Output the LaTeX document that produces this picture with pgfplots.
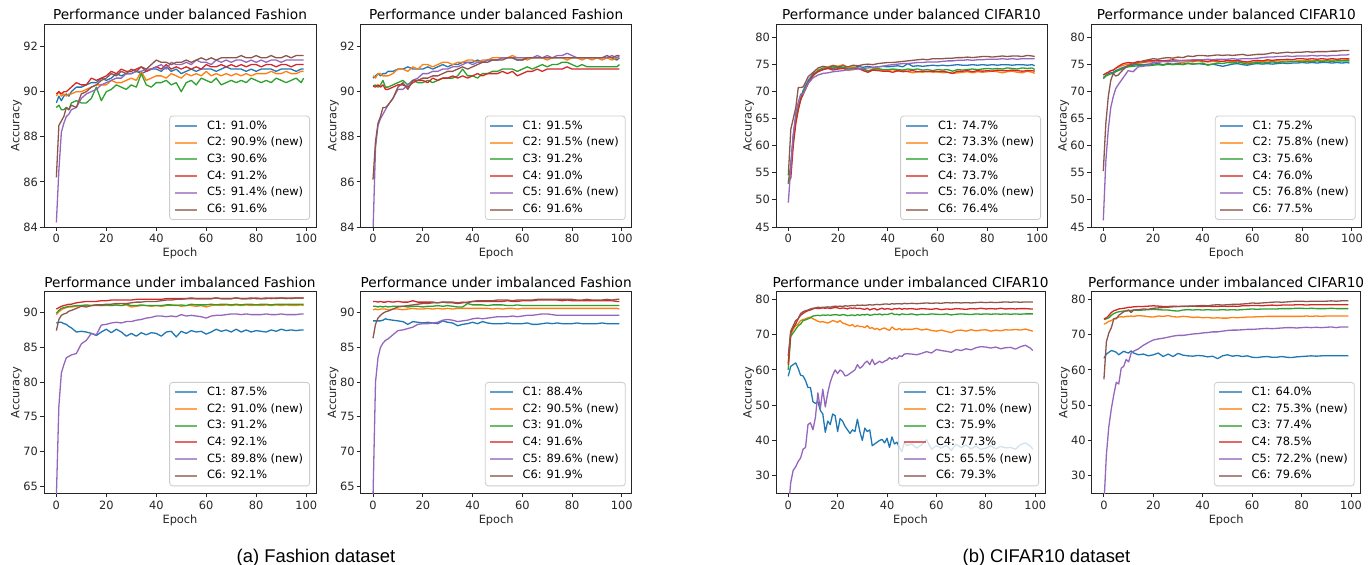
\documentclass[border=0pt]{standalone}
\usepackage{fontspec}
\setmainfont{DejaVu Sans}
\newfontfamily\capfont{Liberation Sans}
\usepackage{pgfplots}
\usepackage{pgfplotstable}
\pgfplotsset{compat=1.18}

\definecolor{c0}{HTML}{1F77B4}
\definecolor{c1}{HTML}{FF7F0E}
\definecolor{c2}{HTML}{2CA02C}
\definecolor{c3}{HTML}{D62728}
\definecolor{c4}{HTML}{9467BD}
\definecolor{c5}{HTML}{8C564B}

% columns: epoch, C1..C6
\pgfplotstableread{
x a b c d e f
0 89.5 89.8 89.3 89.9 84.2 86.2
1 89.8 90.0 89.4 90.0 86.5 88.5
2 89.6 89.8 89.2 89.9 88.2 88.7
3 89.8 89.9 89.2 90.0 88.6 88.9
4 89.9 89.8 89.3 90.0 88.9 89.3
5 89.8 89.9 89.2 90.1 89.0 89.2
6 90.0 89.9 89.5 90.2 89.2 89.4
8 90.2 90.0 89.6 90.4 89.3 89.3
10 90.2 90.0 89.5 90.3 89.7 89.9
12 90.3 90.1 89.5 90.3 89.9 90.0
14 90.4 90.2 89.7 90.6 90.0 90.2
16 90.4 90.3 90.2 90.5 90.1 90.3
18 90.6 90.3 89.6 90.6 90.3 90.5
20 90.5 90.3 90.0 90.7 90.4 90.6
22 90.6 90.5 90.1 90.9 90.5 90.8
24 90.8 90.4 90.3 90.8 90.6 90.7
26 90.7 90.4 90.2 91.0 90.6 90.9
28 90.8 90.5 90.1 90.9 90.8 90.8
30 90.8 90.6 90.3 90.9 90.8 91.0
32 90.9 90.5 90.2 91.0 90.9 90.9
34 90.8 90.9 90.8 91.1 90.9 91.1
36 90.9 90.5 90.3 90.9 91.0 91.0
38 91.0 90.6 90.2 91.0 91.0 91.2
40 91.0 90.7 90.4 91.1 91.1 91.4
42 90.9 90.7 90.4 91.0 91.2 91.3
44 91.1 90.6 90.5 91.2 91.0 91.3
46 90.9 90.8 90.3 91.0 91.3 91.2
48 91.0 90.7 90.4 91.1 91.2 91.3
50 90.8 90.6 90.0 91.0 91.2 91.3
52 90.9 90.8 90.4 91.1 91.3 91.4
54 91.0 90.7 90.5 91.0 91.2 91.3
56 90.9 90.8 90.3 91.1 91.4 91.4
58 91.0 90.7 90.6 91.0 91.3 91.5
60 91.0 90.9 90.5 91.2 91.3 91.4
62 91.0 90.7 90.4 91.1 91.2 91.5
64 90.9 90.8 90.6 91.1 91.4 91.4
66 91.0 90.7 90.3 91.2 91.3 91.5
68 91.1 90.8 90.4 91.1 91.4 91.5
70 91.0 90.7 90.5 91.2 91.3 91.5
72 91.0 90.8 90.4 91.1 91.4 91.5
74 91.0 90.7 90.5 91.2 91.4 91.6
76 90.9 90.8 90.4 91.1 91.3 91.5
78 91.0 90.7 90.6 91.2 91.4 91.5
80 90.9 90.8 90.5 91.2 91.3 91.6
82 91.0 90.8 90.4 91.1 91.4 91.5
84 91.0 90.8 90.5 91.2 91.3 91.5
86 91.0 90.9 90.4 91.2 91.4 91.6
88 90.9 90.8 90.6 91.1 91.4 91.5
90 91.0 90.8 90.5 91.2 91.3 91.5
92 91.0 90.9 90.4 91.2 91.4 91.6
94 91.0 90.8 90.5 91.1 91.4 91.5
96 90.9 90.8 90.6 91.2 91.4 91.6
98 91.0 90.9 90.4 91.2 91.4 91.6
99 91.0 90.9 90.6 91.2 91.4 91.6
}\tA

\pgfplotstableread{
x a b c d e f
0 90.6 90.7 90.25 90.25 83.8 86.1
1 90.7 90.6 90.3 90.2 87.5 87.8
2 90.8 90.8 90.2 90.3 88.5 88.6
3 90.7 90.8 90.3 90.2 88.8 88.9
4 90.8 90.7 90.5 90.3 89.0 89.3
5 90.8 90.7 90.2 90.1 89.2 89.3
6 90.9 90.7 90.2 90.1 89.4 89.4
8 90.9 90.8 90.3 90.2 89.7 89.7
10 91.0 91.0 90.4 90.3 90.1 90.2
12 91.0 91.0 90.5 90.3 90.1 90.4
14 91.1 90.9 90.3 90.2 90.3 90.1
16 91.0 91.1 90.5 90.4 90.5 90.5
18 91.0 91.0 90.4 90.5 90.6 90.5
20 91.0 91.2 90.4 90.5 90.8 90.6
22 91.1 91.2 90.5 90.4 90.8 90.6
24 91.0 91.1 90.4 90.6 90.9 90.7
26 91.1 91.2 90.5 90.5 90.9 90.7
28 91.2 91.3 90.6 90.6 91.0 90.8
30 91.1 91.3 90.6 90.6 91.0 90.9
32 91.2 91.2 90.6 90.7 91.1 90.9
34 91.2 91.3 90.7 90.6 91.1 91.0
36 91.3 91.3 91.0 90.7 91.2 91.1
38 91.3 91.4 90.7 90.6 91.3 91.0
40 91.3 91.4 90.7 90.7 91.2 91.1
42 91.4 91.3 90.6 90.8 91.3 91.2
44 91.3 91.4 90.8 90.7 91.3 91.3
46 91.4 91.4 90.8 90.8 91.4 91.3
48 91.4 91.5 90.9 90.8 91.4 91.4
50 91.4 91.5 90.9 90.8 91.4 91.4
52 91.5 91.5 91.0 90.9 91.5 91.4
54 91.5 91.5 91.0 90.8 91.5 91.5
56 91.5 91.6 91.0 90.9 91.5 91.5
58 91.4 91.5 90.9 90.7 91.5 91.4
60 91.4 91.5 91.0 90.8 91.5 91.4
62 91.5 91.4 91.1 90.9 91.5 91.5
64 91.5 91.5 91.0 90.9 91.5 91.5
66 91.5 91.5 91.1 91.0 91.6 91.5
68 91.5 91.5 91.2 90.9 91.5 91.5
70 91.5 91.4 91.1 91.0 91.6 91.5
72 91.5 91.5 91.2 91.0 91.5 91.5
74 91.5 91.5 91.2 91.0 91.6 91.5
76 91.5 91.5 91.3 91.0 91.6 91.5
78 91.5 91.4 91.3 91.1 91.7 91.5
80 91.5 91.5 91.2 91.0 91.6 91.5
82 91.5 91.5 91.1 91.0 91.5 91.5
84 91.5 91.4 91.2 91.0 91.5 91.5
86 91.5 91.5 91.1 91.0 91.5 91.5
88 91.5 91.4 91.1 91.0 91.5 91.5
90 91.5 91.5 91.1 91.0 91.5 91.5
92 91.5 91.4 91.1 91.0 91.5 91.5
94 91.5 91.5 91.1 91.0 91.5 91.6
96 91.5 91.4 91.1 91.0 91.6 91.5
98 91.4 91.5 91.1 91.0 91.5 91.6
99 91.5 91.5 91.2 91.0 91.6 91.6
}\tB

\pgfplotstableread{
x a b c d e f
0 53.0 53.0 53.0 53.5 49.5 54.5
1 56.5 55.5 56.0 54.0 56.0 63.0
2 62.0 61.0 61.5 60.0 62.0 65.0
3 65.0 64.5 65.0 64.0 66.0 67.0
4 67.0 67.0 67.0 66.5 68.0 70.7
5 68.8 68.5 68.5 68.5 69.5 70.7
6 70.2 69.5 70.0 69.5 69.5 70.8
8 72.0 71.5 71.5 71.5 71.5 72.7
10 73.2 72.8 73.0 73.0 72.5 73.5
12 73.8 74.0 73.8 73.6 73.0 74.3
14 74.0 74.2 74.3 74.0 73.3 74.6
16 74.3 74.5 74.2 74.2 73.4 74.4
18 74.2 74.8 74.5 73.9 73.6 74.7
20 74.4 74.6 74.2 74.1 73.7 74.5
22 74.2 74.9 74.4 74.2 73.8 74.7
24 74.5 74.3 74.1 73.9 74.0 74.5
26 74.3 74.5 74.3 74.0 74.0 74.8
28 74.6 74.2 74.2 74.3 74.1 74.7
30 74.4 74.0 74.1 73.8 74.2 74.9
32 74.6 73.5 73.8 73.5 74.3 75.0
34 74.4 74.2 74.0 73.9 74.4 74.9
36 74.5 74.0 74.2 73.8 74.5 75.1
38 74.6 73.9 74.0 73.7 74.6 75.2
40 74.5 73.8 74.0 73.7 74.8 75.3
42 74.6 74.0 74.1 73.5 74.9 75.3
44 74.7 73.7 74.0 73.8 75.0 75.4
46 74.5 73.9 73.9 73.6 75.1 75.5
48 75.1 73.6 74.1 73.7 75.1 75.6
50 74.6 73.4 74.0 73.8 75.2 75.7
52 74.7 73.6 74.1 73.6 75.3 75.8
54 74.6 73.5 73.9 73.7 75.3 75.9
56 74.7 73.7 74.0 73.6 75.4 75.8
58 74.8 73.5 73.8 73.7 75.4 76.0
60 74.7 73.6 74.0 73.6 75.4 76.0
62 74.8 73.4 73.9 73.7 75.5 76.0
64 74.7 73.5 74.0 73.5 75.6 76.1
66 74.8 73.3 73.7 73.3 75.6 76.1
68 74.9 73.4 74.0 73.7 75.7 76.2
70 74.8 73.5 73.9 73.7 75.7 76.2
72 74.8 73.6 74.0 73.8 75.8 76.3
74 74.9 73.4 74.1 73.6 75.7 76.2
76 74.8 73.6 74.0 73.8 75.8 76.3
78 74.9 73.5 74.1 73.7 75.8 76.4
80 74.8 73.6 74.2 73.8 75.9 76.4
82 74.9 73.7 74.1 73.7 75.9 76.3
84 74.8 73.6 74.2 73.9 75.9 76.4
86 74.9 73.4 74.1 73.8 76.0 76.5
88 74.9 73.6 74.3 73.8 75.9 76.4
90 74.8 73.7 74.2 73.9 76.0 76.5
92 74.9 73.5 74.1 73.8 75.9 76.5
94 74.9 73.4 74.3 73.7 76.0 76.4
96 74.8 73.7 74.2 73.8 76.0 76.6
98 74.9 73.5 74.3 73.8 76.0 76.5
99 74.7 73.3 74.0 73.7 76.0 76.4
}\tC

\pgfplotstableread{
x a b c d e f
0 72.5 73.0 72.3 73.0 46.2 55.3
1 72.9 73.2 72.8 73.3 57.0 64.0
2 73.3 73.5 73.0 73.5 63.0 69.0
3 73.4 73.8 73.2 73.8 67.0 72.0
4 73.5 73.9 73.3 73.9 69.0 73.3
5 73.8 74.3 73.6 74.2 70.5 72.8
6 74.0 74.4 73.8 74.6 71.2 73.0
8 74.4 74.8 74.2 75.1 72.5 74.0
10 74.7 75.0 74.5 75.3 73.8 74.8
12 74.8 75.2 74.6 75.2 73.6 75.0
14 75.0 75.1 74.7 75.5 74.5 75.3
16 74.9 75.3 74.8 75.4 74.6 75.6
18 75.0 75.4 74.7 75.6 74.8 75.8
20 75.0 75.4 74.8 75.6 75.3 76.0
22 75.1 75.3 74.9 75.7 75.4 75.9
24 74.9 75.5 74.8 75.6 75.5 76.1
26 75.1 75.4 75.0 75.7 75.5 76.2
28 75.0 75.5 74.9 75.8 75.6 76.1
30 75.1 75.4 75.0 75.7 75.6 76.3
32 75.0 75.3 74.9 75.6 75.7 76.2
34 75.2 75.5 75.1 75.7 75.7 76.5
36 75.0 75.4 75.0 75.6 75.8 76.4
38 75.1 75.6 75.1 75.7 75.8 76.6
40 75.0 75.5 75.2 75.6 75.8 76.6
42 74.9 75.4 74.8 75.5 75.9 76.5
44 75.0 75.5 75.0 75.7 75.8 76.6
46 74.8 75.4 75.2 75.6 75.9 76.7
48 74.6 75.5 75.1 75.5 75.9 76.6
50 74.8 75.6 75.3 75.7 75.9 76.7
52 75.0 75.4 75.2 75.6 76.0 76.6
54 75.1 75.6 75.4 75.7 75.9 76.7
56 74.9 75.4 75.2 75.5 76.0 76.8
58 74.8 75.2 75.0 75.4 76.0 76.6
60 75.0 75.3 75.2 75.6 76.0 76.7
62 75.1 75.5 75.3 75.7 76.1 76.8
64 75.0 75.4 75.2 75.6 76.2 76.8
66 75.1 75.6 75.3 75.8 76.3 76.9
68 75.0 75.5 75.4 75.7 76.3 77.1
70 75.1 75.6 75.3 75.8 76.4 77.0
72 75.2 75.5 75.4 75.8 76.4 77.1
74 75.1 75.6 75.4 75.9 76.5 77.2
76 75.2 75.5 75.5 75.8 76.4 77.1
78 75.2 75.6 75.5 76.0 76.5 77.2
80 75.3 75.6 75.4 76.0 76.5 77.2
82 75.2 75.7 75.5 75.9 76.5 77.3
84 75.3 75.6 75.5 76.0 76.6 77.2
86 75.2 75.7 75.6 75.9 76.5 77.3
88 75.3 75.6 75.5 76.0 76.6 77.3
90 75.3 75.7 75.6 75.9 76.5 77.3
92 75.2 75.7 75.5 76.0 76.6 77.4
94 75.3 75.8 75.6 75.9 76.6 77.4
96 75.2 75.7 75.6 76.0 76.7 77.5
98 75.3 75.8 75.6 76.0 76.7 77.5
99 75.2 75.8 75.6 76.0 76.8 77.5
}\tD

\pgfplotstableread{
x a b c d e f
0 88.5 89.7 89.9 90.5 63.5 87.4
1 88.6 90.1 90.3 90.7 76.5 89.0
2 88.6 90.4 90.6 90.9 81.3 89.6
3 88.4 90.6 90.7 91.0 82.5 89.8
4 88.3 90.7 90.8 91.1 83.5 89.9
5 88.0 90.8 90.9 91.2 83.7 90.2
6 87.8 90.8 90.9 91.2 83.9 90.3
8 87.2 90.9 91.0 91.4 84.1 90.6
10 87.3 91.0 91.0 91.5 85.5 90.9
12 87.2 91.0 91.1 91.6 86.0 90.8
14 87.0 91.0 91.0 91.6 87.0 91.0
16 86.7 91.0 91.1 91.6 86.8 91.1
18 87.2 91.0 91.0 91.7 88.2 91.1
20 87.6 91.0 91.1 91.7 88.3 91.2
22 87.1 91.0 91.0 91.8 88.5 91.2
24 87.6 91.1 91.1 91.8 88.6 91.3
26 87.2 91.0 91.0 91.8 88.5 91.3
28 86.6 91.1 91.2 91.8 88.7 91.3
30 87.0 90.8 91.0 91.8 88.7 91.4
32 86.6 90.9 91.0 91.9 88.9 91.5
34 87.1 91.0 91.1 91.9 89.0 91.5
36 86.8 91.0 91.0 91.9 89.2 91.6
38 87.1 90.9 91.0 91.9 89.3 91.6
40 87.0 91.0 91.0 91.9 89.5 91.6
42 86.6 90.9 91.0 91.9 89.5 91.7
44 87.2 91.0 91.1 92.0 89.4 91.8
46 87.3 91.0 91.1 92.0 89.5 91.8
48 86.5 91.1 91.0 92.0 89.4 91.9
50 87.3 90.9 91.1 92.0 89.7 91.9
52 87.0 91.0 91.0 92.0 89.5 92.0
54 87.4 91.0 91.2 92.1 89.6 92.0
56 87.2 90.9 91.1 92.0 89.5 92.0
58 87.3 91.0 91.1 92.0 89.4 92.0
60 86.9 90.8 91.1 92.0 89.2 92.0
62 87.2 91.0 91.2 92.0 89.5 92.0
64 87.6 91.1 91.1 92.1 89.6 92.1
66 87.3 91.0 91.2 92.0 89.6 92.0
68 87.5 91.1 91.2 92.0 89.7 92.0
70 87.2 91.0 91.1 92.0 89.8 92.0
72 87.6 91.1 91.2 92.1 89.8 92.1
74 87.2 91.0 91.1 92.0 89.7 92.0
76 87.5 91.1 91.2 92.0 89.8 92.0
78 87.2 91.0 91.2 92.1 89.7 92.0
80 87.4 91.1 91.1 92.0 89.7 92.1
82 87.3 91.0 91.2 92.0 89.7 92.0
84 87.2 91.1 91.2 92.1 89.8 92.0
86 87.5 91.0 91.1 92.0 89.7 92.1
88 87.3 91.1 91.2 92.1 89.7 92.0
90 87.6 91.0 91.2 92.1 89.8 92.1
92 87.4 91.1 91.2 92.0 89.7 92.1
94 87.5 91.0 91.2 92.1 89.7 92.0
96 87.4 91.0 91.2 92.1 89.7 92.1
98 87.5 91.1 91.2 92.1 89.8 92.1
99 87.5 91.0 91.2 92.1 89.8 92.1
}\tE

\pgfplotstableread{
x a b c d e f
0 88.8 90.4 90.9 91.6 63.5 86.3
1 88.8 90.5 90.9 91.6 80.0 88.3
2 88.8 90.4 90.8 91.5 83.5 89.2
3 88.8 90.5 90.9 91.6 85.0 89.6
4 88.9 90.5 90.8 91.5 85.6 89.9
5 89.1 90.5 90.9 91.5 86.0 90.1
6 89.0 90.4 90.8 91.6 86.2 90.2
8 88.9 90.5 90.9 91.5 86.8 90.5
10 88.8 90.5 90.9 91.6 87.4 90.8
12 88.7 90.4 90.9 91.5 87.5 90.9
14 88.3 90.5 90.8 91.5 87.7 91.0
16 88.7 90.6 90.9 91.7 87.9 91.1
18 88.6 90.5 90.9 91.5 88.3 91.2
20 88.5 90.5 90.8 91.5 88.4 91.3
22 88.6 90.6 90.9 91.5 88.4 91.3
24 88.5 90.5 90.9 91.5 88.5 91.4
26 88.4 90.6 91.0 91.4 88.6 91.4
28 88.8 90.5 90.9 91.5 88.9 91.5
30 88.6 90.6 91.0 91.4 89.0 91.5
32 88.5 90.5 90.9 91.4 88.9 91.5
34 88.1 90.6 90.8 91.3 88.7 91.4
36 88.3 90.6 90.8 91.4 88.8 91.5
38 88.4 90.6 91.3 91.5 88.9 91.4
40 88.6 90.6 91.1 91.6 89.1 91.6
42 88.4 90.6 91.1 91.6 89.2 91.7
44 88.7 90.6 91.1 91.6 89.1 91.7
46 88.5 90.6 91.0 91.6 89.2 91.7
48 88.4 90.5 91.1 91.6 89.3 91.7
50 88.4 90.6 91.1 91.6 89.4 91.8
52 88.4 90.5 91.1 91.6 89.4 91.8
54 88.5 90.6 91.0 91.7 89.4 91.8
56 88.4 90.6 91.0 91.6 89.5 91.7
58 88.4 90.5 91.1 91.6 89.4 91.8
60 88.4 90.6 91.0 91.7 89.5 91.8
62 88.5 90.6 91.0 91.7 89.6 91.8
64 88.3 90.6 91.0 91.7 89.6 91.8
66 88.3 90.6 91.0 91.8 89.7 91.9
68 88.4 90.6 91.0 91.8 89.8 91.9
70 88.5 90.6 91.0 91.8 89.8 91.9
72 88.4 90.6 91.0 91.8 89.7 91.9
74 88.5 90.6 91.0 91.8 89.6 91.9
76 88.4 90.6 91.0 91.7 89.6 91.9
78 88.4 90.6 91.0 91.8 89.6 91.9
80 88.4 90.6 91.0 91.7 89.6 91.9
82 88.5 90.6 91.0 91.7 89.6 91.8
84 88.4 90.6 91.0 91.7 89.6 91.8
86 88.4 90.6 91.0 91.7 89.6 91.9
88 88.4 90.6 91.0 91.7 89.6 91.8
90 88.4 90.6 91.0 91.7 89.6 91.8
92 88.5 90.6 91.0 91.7 89.6 91.8
94 88.4 90.6 91.0 91.7 89.6 91.9
96 88.4 90.6 91.0 91.7 89.6 91.8
98 88.4 90.6 91.0 91.6 89.6 91.9
99 88.4 90.5 91.0 91.6 89.6 91.9
}\tF

\pgfplotstableread{
x a b c d e f
0 58.2 62.0 60.0 61.5 20.0 64.0
1 61.0 70.0 69.5 70.5 28.0 71.0
2 61.5 71.5 70.5 72.0 31.5 72.5
3 62.0 72.5 71.5 73.0 32.5 74.0
4 60.5 73.0 72.5 74.5 34.0 74.5
5 58.5 74.0 73.0 75.5 35.0 76.0
6 58.3 74.3 74.0 76.0 37.5 76.5
7 57.0 74.5 74.2 76.5 38.0 76.8
8 55.0 74.8 74.5 76.8 44.5 77.0
9 55.0 75.0 74.8 77.0 45.0 77.3
10 51.0 74.5 75.3 77.3 43.0 77.5
11 50.5 74.2 75.4 77.5 46.5 77.6
12 51.0 73.8 75.5 77.4 53.5 77.8
13 48.5 73.6 75.4 77.5 49.0 77.7
14 47.5 73.7 75.6 77.6 54.5 77.8
15 42.3 73.5 75.5 77.5 49.5 77.8
16 45.5 73.3 75.6 77.6 53.5 77.9
17 44.5 73.6 75.5 77.4 56.5 77.8
18 47.5 74.0 75.6 77.6 58.5 78.0
19 47.0 73.8 75.7 77.7 60.0 78.1
20 42.5 73.5 75.6 77.6 59.0 78.0
21 46.2 74.0 75.5 77.4 60.0 78.1
22 45.5 73.3 75.7 77.6 59.5 78.0
23 44.0 73.1 75.6 77.5 58.3 78.2
24 43.0 72.8 75.4 77.3 58.5 78.1
25 42.0 72.5 75.5 77.6 59.0 78.2
26 43.0 72.9 75.6 77.5 59.5 78.3
27 42.5 72.2 75.4 77.6 60.0 78.2
28 46.0 72.6 75.7 77.4 61.5 78.4
29 42.5 72.3 75.5 77.5 60.5 78.3
30 40.0 72.3 75.7 77.3 61.0 78.4
31 43.5 72.0 75.6 77.2 62.0 78.3
32 42.5 72.6 75.8 77.5 62.5 78.4
33 43.0 71.8 75.5 77.0 61.5 78.5
34 38.5 72.0 75.6 77.3 63.0 78.4
35 39.0 71.5 75.8 77.4 61.5 78.5
36 39.5 71.8 75.7 77.0 62.0 78.6
37 40.0 71.3 75.9 77.3 62.5 78.5
38 40.3 71.7 75.6 77.5 62.0 78.6
39 39.3 71.9 75.8 77.2 62.5 78.7
40 40.6 71.5 75.7 77.4 62.8 78.7
41 38.0 71.2 75.9 77.3 63.5 78.6
42 41.0 72.2 76.1 77.1 63.0 78.8
43 39.0 71.6 75.7 77.4 63.5 78.7
44 39.5 71.4 75.8 77.3 63.2 78.8
45 38.0 71.8 75.6 77.5 64.0 78.8
46 36.8 71.3 75.9 77.2 63.8 78.7
47 39.5 71.6 75.8 77.4 64.5 78.9
48 38.5 71.5 75.7 77.3 64.6 78.8
50 39.0 71.5 75.9 77.4 64.5 78.9
52 37.8 71.8 75.6 77.2 64.3 78.8
54 38.8 71.3 75.8 77.4 64.7 78.9
56 40.2 71.6 75.7 77.3 65.2 79.0
58 37.5 71.2 75.9 77.2 64.8 78.9
60 38.5 71.0 75.8 77.4 65.8 79.0
62 37.8 71.3 75.7 77.1 65.5 78.9
64 38.6 70.9 75.9 77.3 65.3 79.1
66 37.2 70.6 75.6 77.2 65.0 79.0
68 38.9 71.2 75.8 77.4 65.8 79.1
70 38.0 71.3 75.9 77.3 65.5 79.0
72 38.7 71.0 75.8 77.2 66.0 79.1
74 37.6 71.4 75.7 77.4 65.7 79.0
76 38.4 71.1 75.9 77.3 66.3 79.1
78 37.5 71.3 75.8 77.5 66.6 79.2
80 37.8 71.4 75.9 77.3 66.5 79.1
82 38.5 71.0 75.8 77.4 66.2 79.2
84 37.6 71.3 75.9 77.3 66.5 79.1
86 38.3 71.1 75.8 77.5 66.0 79.2
88 37.9 71.4 75.9 77.3 66.3 79.3
90 38.0 71.3 75.8 77.4 66.4 79.2
92 37.5 71.5 75.9 77.3 65.9 79.3
94 38.8 71.3 75.8 77.4 66.6 79.2
96 39.3 71.6 75.9 77.4 67.0 79.3
98 38.4 71.2 75.9 77.3 66.2 79.3
99 37.5 71.0 75.9 77.3 65.5 79.3
}\tG

\pgfplotstableread{
x a b c d e f
0 63.3 73.0 74.3 74.5 22.0 57.3
1 64.5 73.3 74.5 74.8 36.0 68.0
2 65.0 73.8 74.8 75.5 44.0 70.5
3 65.5 74.0 75.5 76.3 49.0 72.0
4 65.3 74.5 76.0 76.8 53.0 74.5
5 65.0 74.8 76.3 77.0 56.5 74.5
6 64.3 75.0 76.5 77.3 56.0 75.5
7 64.8 75.1 76.6 77.4 60.5 76.0
8 65.3 75.0 76.7 77.5 61.0 76.5
9 65.0 75.2 76.7 77.6 63.0 76.8
10 64.8 75.2 76.8 77.8 62.3 77.0
11 65.4 75.3 76.9 77.8 64.7 76.3
12 64.8 75.2 77.0 77.9 65.3 77.0
14 64.3 75.4 76.9 78.0 66.0 77.1
16 64.5 75.3 77.0 78.0 67.0 77.3
18 64.0 75.1 77.1 78.1 67.8 77.2
20 64.3 75.0 77.2 78.2 68.5 77.5
22 64.8 75.3 77.1 78.1 68.8 77.6
24 63.8 75.2 77.0 78.0 69.0 77.7
26 64.5 75.4 77.0 78.0 69.3 77.8
28 63.8 75.1 76.8 78.1 69.6 77.9
30 64.7 75.0 76.7 78.0 69.8 78.0
32 64.2 75.2 77.0 78.1 69.8 78.0
34 64.0 75.1 77.1 78.0 70.0 78.1
36 63.9 74.9 77.0 78.1 70.2 78.1
38 64.1 75.0 77.1 78.0 70.3 78.2
40 64.0 74.8 77.0 78.0 70.5 78.3
42 63.7 74.9 77.1 78.1 70.6 78.2
44 63.9 74.7 77.0 78.0 70.8 78.4
46 63.2 74.8 77.0 78.0 70.8 78.5
48 64.0 74.7 77.1 78.1 71.0 78.4
50 64.3 74.7 77.0 78.0 71.2 78.5
52 63.9 74.9 77.1 78.1 71.3 78.6
54 64.1 74.8 77.0 78.0 71.3 78.6
56 63.8 74.9 77.1 78.2 71.4 78.7
58 64.0 75.0 77.2 78.2 71.5 78.8
60 63.6 75.0 77.3 78.3 71.5 79.0
62 63.5 75.1 77.2 78.3 71.6 78.9
64 63.7 75.1 77.3 78.2 71.7 79.0
66 63.8 75.2 77.3 78.3 71.8 79.1
68 63.6 75.2 77.3 78.4 71.7 79.2
70 63.6 75.2 77.3 78.3 71.8 79.3
72 63.8 75.2 77.4 78.4 71.9 79.2
74 63.6 75.2 77.4 78.4 72.0 79.3
76 63.5 75.2 77.4 78.4 72.0 79.4
78 63.7 75.2 77.5 78.5 71.9 79.5
80 63.8 75.2 77.5 78.5 72.0 79.5
82 63.9 75.3 77.4 78.4 72.1 79.4
84 64.0 75.2 77.5 78.5 72.0 79.5
86 63.9 75.3 77.4 78.5 72.1 79.5
88 64.0 75.2 77.4 78.5 72.0 79.5
90 64.0 75.3 77.4 78.5 72.1 79.5
92 64.0 75.3 77.5 78.5 72.2 79.6
94 64.0 75.3 77.4 78.5 72.0 79.5
96 64.0 75.3 77.4 78.5 72.2 79.6
98 64.0 75.3 77.4 78.5 72.2 79.6
99 64.0 75.3 77.4 78.5 72.2 79.6
}\tH

\pgfplotsset{
  acc/.style={
    scale only axis,
    xmin=-4.95, xmax=103.95,
    xtick={0,20,...,100},
    tick pos=left, tick align=outside,
    major tick length=2pt,
    axis line style={black!85, line width=0.45pt},
    tick style={black!85, line width=0.45pt},
    /pgf/number format/assume math mode=true,
    ticklabel style={font=\fontsize{5.7}{6.8}\selectfont, text=black!85},
    xticklabel style={yshift=1.8pt},
    yticklabel style={xshift=2.5pt},
    label style={font=\fontsize{5.7}{6.8}\selectfont, text=black!85},
    title style={font=\fontsize{6.84}{8}\selectfont, at={(0.5,1)}, anchor=base, yshift=-4pt},
    xlabel={Epoch}, ylabel={Accuracy},
    xlabel style={at={(axis description cs:0.5,0)}, anchor=base, yshift=-15pt},
    ylabel style={at={(axis description cs:-0.08,0.5)}, anchor=south, inner sep=0pt},
    legend style={
      at={(1,0)}, anchor=south east, xshift=-3pt, yshift=3.5pt,
      draw=black!20, line width=0.4pt, fill=white, fill opacity=0.8, text opacity=1,
      rounded corners=1.5pt,
      font=\fontsize{5.7}{6.5}\selectfont,
      inner xsep=2pt, inner ysep=1pt, row sep=0.35pt,
      nodes={inner sep=1.2pt, text height=4.3pt, text depth=1.3pt},
      /tikz/every odd column/.style={column sep=3.3pt},
    },
    legend cell align=left,
    legend image code/.code={\draw[##1, line width=1pt, draw opacity=0.7] (0pt,0pt) -- (11.2pt,0pt);},
    cycle list={{c0},{c1},{c2},{c3},{c4},{c5}},
    every axis plot/.append style={line width=0.65pt, mark=none, line join=round},
  }
}

\newcommand{\sixlines}[1]{%
  \addplot table[x=x,y=a]{#1};
  \addplot table[x=x,y=b]{#1};
  \addplot table[x=x,y=c]{#1};
  \addplot table[x=x,y=d]{#1};
  \addplot table[x=x,y=e]{#1};
  \addplot table[x=x,y=f]{#1};
}

\begin{document}
\begin{tikzpicture}
\path[use as bounding box] (0,0) rectangle (686pt,282.5pt);

% top row: balanced
\begin{axis}[acc, at={(22pt,169pt)}, anchor=south west, width=136pt, height=101.5pt,
  ymin=84, ymax=93, ytick={84,86,88,90,92},
  title={Performance under balanced Fashion}]
  \sixlines{\tA}
  \legend{C1: 91.0\%, C2: 90.9\% (new), C3: 90.6\%, C4: 91.2\%, C5: 91.4\% (new), C6: 91.6\%}
\end{axis}

\begin{axis}[acc, at={(180.35pt,169pt)}, anchor=south west, width=135.5pt, height=101.5pt,
  ymin=84, ymax=93, ytick={84,86,88,90,92},
  title={Performance under balanced Fashion}]
  \sixlines{\tB}
  \legend{C1: 91.5\%, C2: 91.5\% (new), C3: 91.2\%, C4: 91.0\%, C5: 91.6\% (new), C6: 91.6\%}
\end{axis}

\begin{axis}[acc, at={(388pt,169pt)}, anchor=south west, width=135.5pt, height=101.5pt,
  ymin=45, ymax=82.4, ytick={45,50,...,80},
  title={Performance under balanced CIFAR10}]
  \sixlines{\tC}
  \legend{C1: 74.7\%, C2: 73.3\% (new), C3: 74.0\%, C4: 73.7\%, C5: 76.0\% (new), C6: 76.4\%}
\end{axis}

\begin{axis}[acc, at={(545.5pt,169pt)}, anchor=south west, width=135.35pt, height=101.5pt,
  ymin=45, ymax=82.4, ytick={45,50,...,80},
  title={Performance under balanced CIFAR10}]
  \sixlines{\tD}
  \legend{C1: 75.2\%, C2: 75.8\% (new), C3: 75.6\%, C4: 76.0\%, C5: 76.8\% (new), C6: 77.5\%}
\end{axis}

% bottom row: imbalanced
\begin{axis}[acc, at={(22pt,35.85pt)}, anchor=south west, width=136pt, height=100.8pt,
  ymin=64, ymax=93, ytick={65,70,...,90},
  title={Performance under imbalanced Fashion}]
  \sixlines{\tE}
  \legend{C1: 87.5\%, C2: 91.0\% (new), C3: 91.2\%, C4: 92.1\%, C5: 89.8\% (new), C6: 92.1\%}
\end{axis}

\begin{axis}[acc, at={(180.35pt,35.85pt)}, anchor=south west, width=135.5pt, height=100.8pt,
  ymin=64, ymax=93, ytick={65,70,...,90},
  title={Performance under imbalanced Fashion}]
  \sixlines{\tF}
  \legend{C1: 88.4\%, C2: 90.5\% (new), C3: 91.0\%, C4: 91.6\%, C5: 89.6\% (new), C6: 91.9\%}
\end{axis}

\begin{axis}[acc, at={(388pt,35.85pt)}, anchor=south west, width=134.5pt, height=100.8pt,
  ymin=25, ymax=82.2, ytick={30,40,...,80},
  title={Performance under imbalanced CIFAR10}]
  \sixlines{\tG}
  \legend{C1: 37.5\%, C2: 71.0\% (new), C3: 75.9\%, C4: 77.3\%, C5: 65.5\% (new), C6: 79.3\%}
\end{axis}

\begin{axis}[acc, at={(545.85pt,35.85pt)}, anchor=south west, width=134.5pt, height=100.8pt,
  ymin=25, ymax=82.2, ytick={30,40,...,80},
  title={Performance under imbalanced CIFAR10}]
  \sixlines{\tH}
  \legend{C1: 64.0\%, C2: 75.3\% (new), C3: 77.4\%, C4: 78.5\%, C5: 72.2\% (new), C6: 79.6\%}
\end{axis}

\node[font=\capfont\fontsize{9.2}{11}\selectfont] at (158pt,3.8pt) {(a) Fashion dataset};
\node[font=\capfont\fontsize{9.2}{11}\selectfont] at (523.25pt,3.8pt) {(b) CIFAR10 dataset};
\end{tikzpicture}
\end{document}
